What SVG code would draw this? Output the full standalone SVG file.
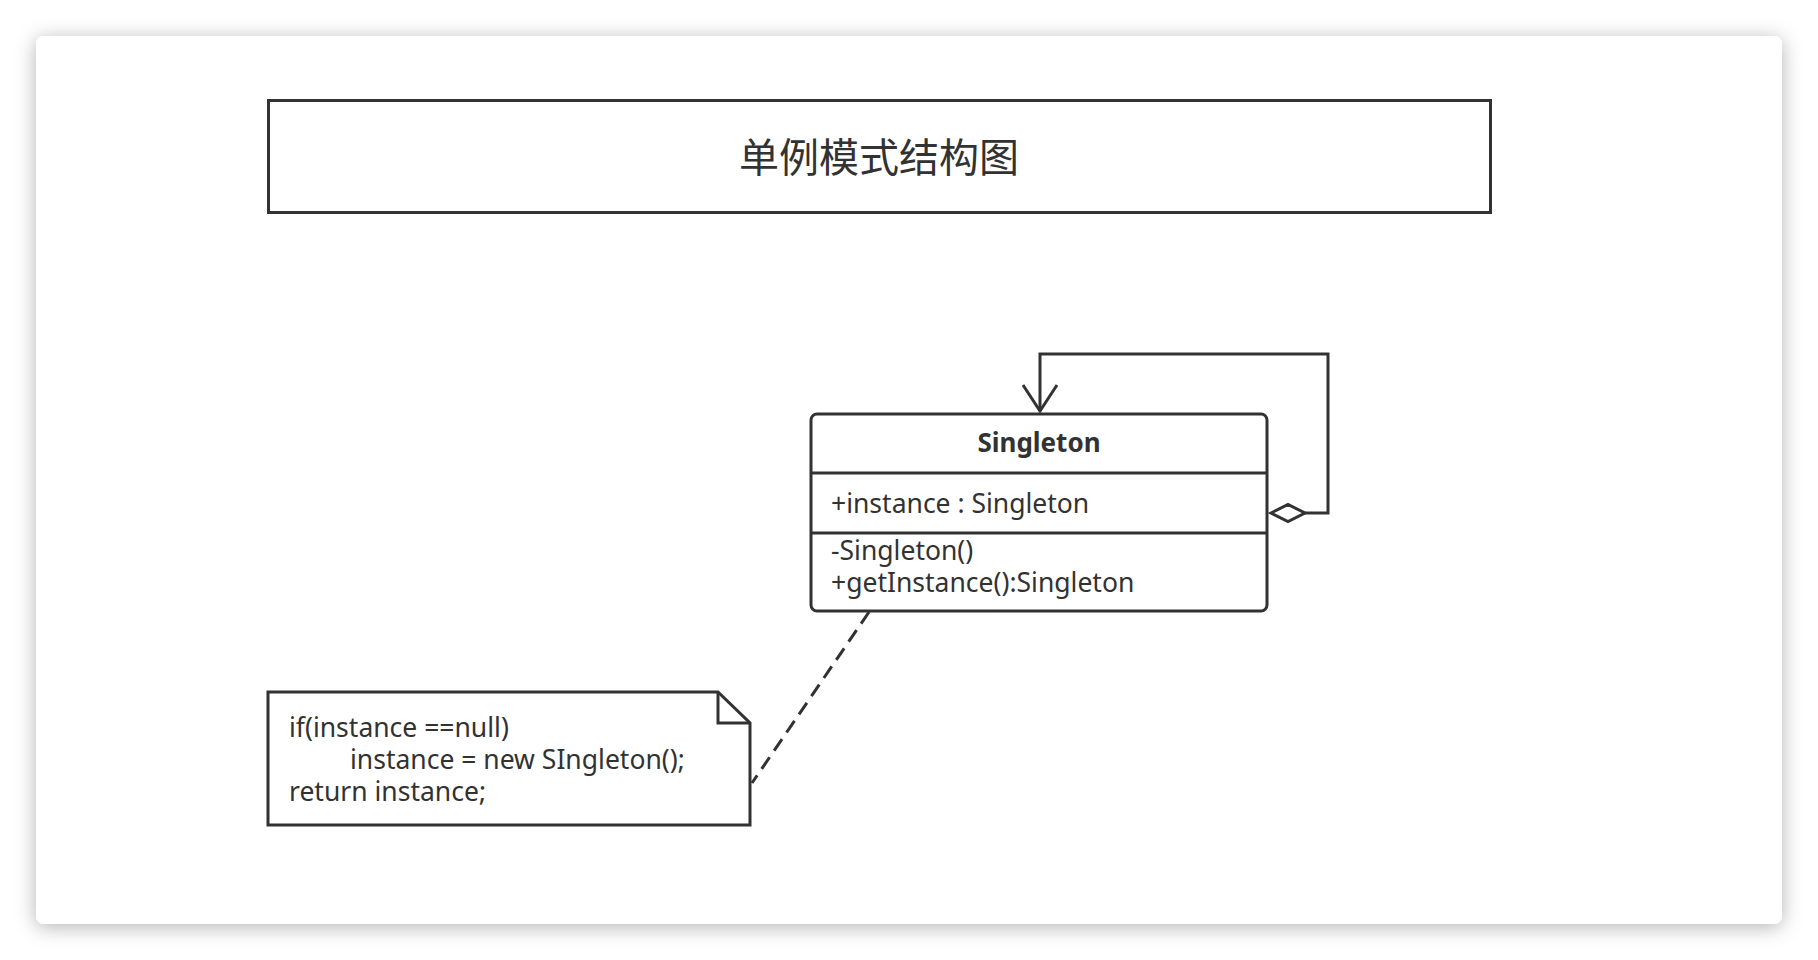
<svg xmlns="http://www.w3.org/2000/svg" width="1818" height="960" viewBox="0 0 1818 960">
  <defs>
    <filter id="cardShadow" x="-5%" y="-5%" width="110%" height="112%">
      <feDropShadow dx="0" dy="3" stdDeviation="10" flood-color="#000" flood-opacity="0.3"/>
    </filter>
  </defs>
  <style>
    .ln { fill: none; stroke: #323232; stroke-width: 3; }
    .box { fill: #ffffff; stroke: #323232; stroke-width: 3; }
    .txt { font-family: "Noto Sans", "Liberation Sans", sans-serif; font-size: 26.5px; fill: #323232; }
    .bold { font-weight: bold; font-size: 26px; }
    .title { font-family: "Noto Sans CJK SC", "Noto Sans", sans-serif; font-size: 40px; fill: #323232; }
  </style>
  <rect width="1818" height="960" fill="#ffffff"/>
  <rect x="36" y="36" width="1746" height="888" rx="8" fill="#ffffff" filter="url(#cardShadow)"/>

  <g id="title">
    <rect class="box" x="268.5" y="100.5" width="1222" height="112"/>
    <text class="title" x="879" y="172" text-anchor="middle">单例模式结构图</text>
  </g>

  <g id="singleton">
    <rect class="box" x="811" y="414" width="456" height="197" rx="6"/>
    <line class="ln" x1="811" y1="473" x2="1267" y2="473"/>
    <line class="ln" x1="811" y1="533" x2="1267" y2="533"/>
    <text class="txt bold" x="1039" y="452" text-anchor="middle">Singleton</text>
    <text class="txt" x="831" y="513">+instance : Singleton</text>
    <text class="txt" x="831" y="560">-Singleton()</text>
    <text class="txt" x="831" y="592">+getInstance():Singleton</text>
  </g>

  <g id="note">
    <path class="box" d="M268 692 H718 L750 723 V825 H268 Z"/>
    <path class="ln" d="M718 692 V723 H750"/>
    <text class="txt" x="289" y="737">if(instance ==null)</text>
    <text class="txt" x="350" y="769">instance = new SIngleton();</text>
    <text class="txt" x="289" y="801">return instance;</text>
  </g>

  <g id="connectors">
    <path class="ln" d="M1305 513 H1328 V354 H1040 V411"/>
    <path class="ln" d="M1023 385 L1040 411 L1057 385"/>
    <path class="box" d="M1271 513 L1288 504.5 L1305 513 L1288 521.5 Z"/>
    <line class="ln" x1="869" y1="612" x2="752" y2="783" stroke-dasharray="14 8"/>
  </g>
</svg>
